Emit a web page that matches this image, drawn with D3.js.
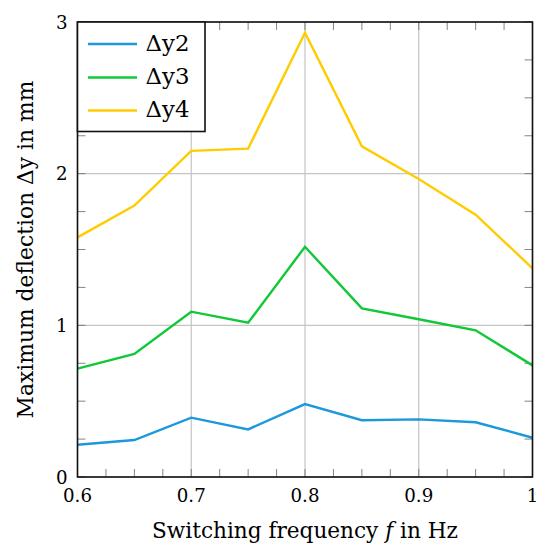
<!DOCTYPE html>
<html>
<head>
<meta charset="utf-8">
<script src="https://cdn.jsdelivr.net/npm/d3@7"></script>
<style>
  body { margin: 0; background: #fff; }
  svg text { font-family: "DejaVu Serif", serif; fill: #000; }
</style>
</head>
<body>
<svg id="chart" width="550" height="550"></svg>
<script>
const freq = [0.6, 0.65, 0.7, 0.75, 0.8, 0.85, 0.9, 0.95, 1.0];
const dy2 = [0.213, 0.244, 0.391, 0.314, 0.481, 0.374, 0.380, 0.361, 0.259];
const dy3 = [0.714, 0.811, 1.090, 1.017, 1.518, 1.112, 1.040, 0.967, 0.736];
const dy4 = [1.580, 1.790, 2.150, 2.165, 2.930, 2.180, 1.965, 1.730, 1.376];
const seriesNames = ["Δy2", "Δy3", "Δy4"];
const seriesColors = ["#1c98dc", "#10c838", "#ffcc00"];
const xTicks = [0.6, 0.7, 0.8, 0.9, 1.0];
const xTickLabels = ["0.6", "0.7", "0.8", "0.9", "1"];
const yTicks = [0, 1, 2, 3];
const yTickLabels = ["0", "1", "2", "3"];
const xMinor = d3.range(0.6, 1.0001, 0.025);
const yMinor = d3.range(0, 3.0001, 0.25);

const series = [dy2, dy3, dy4];
const svg = d3.select("#chart");
const L = 77.5, R = 532.5, T = 22, B = 477;
const x = d3.scaleLinear().domain([0.6, 1.0]).range([L, R]);
const y = d3.scaleLinear().domain([0, 3]).range([B, T]);

// font size that makes a text span a target width
function fitSize(str, target, base) {
  const t = svg.append("text").attr("font-size", base).text(str);
  const w = t.node().getComputedTextLength();
  t.remove();
  return w > 0 ? base * target / w : base;
}
function fit(sel, target) {
  const fs0 = parseFloat(sel.attr("font-size"));
  const w = sel.node().getComputedTextLength();
  if (w > 0) sel.attr("font-size", (fs0 * target / w).toFixed(2));
  return sel;
}

// grid
const g = svg.append("g");
g.selectAll("line.gx").data(xTicks).join("line")
  .attr("x1", d => x(d)).attr("x2", d => x(d)).attr("y1", T).attr("y2", B)
  .attr("stroke", "#c4c4c4").attr("stroke-width", 1.2);
g.selectAll("line.gy").data(yTicks).join("line")
  .attr("y1", d => y(d)).attr("y2", d => y(d)).attr("x1", L).attr("x2", R)
  .attr("stroke", "#c4c4c4").attr("stroke-width", 1.2);

// minor ticks on all sides
const tl = 8;
const tickG = svg.append("g").attr("stroke", "#777").attr("stroke-width", 0.9);
xMinor.forEach(v => {
  tickG.append("line").attr("x1", x(v)).attr("x2", x(v)).attr("y1", B).attr("y2", B - tl);
  tickG.append("line").attr("x1", x(v)).attr("x2", x(v)).attr("y1", T).attr("y2", T + tl);
});
yMinor.forEach(v => {
  tickG.append("line").attr("y1", y(v)).attr("y2", y(v)).attr("x1", L).attr("x2", L + tl);
  tickG.append("line").attr("y1", y(v)).attr("y2", y(v)).attr("x1", R).attr("x2", R - tl);
});

// lines
const line = d3.line().x((d, i) => x(freq[i])).y(d => y(d));
series.forEach((s, k) => {
  svg.append("path").datum(s).attr("d", line)
    .attr("fill", "none").attr("stroke", seriesColors[k])
    .attr("stroke-width", 2.4).attr("stroke-linejoin", "miter");
});

// frame
svg.append("rect").attr("x", L).attr("y", T).attr("width", R - L).attr("height", B - T)
  .attr("fill", "none").attr("stroke", "#111").attr("stroke-width", 1.6);

// tick labels
const fs = Math.min(22, fitSize("0.6", 29, 18));
svg.selectAll("text.xt").data(xTicks).join("text")
  .attr("x", d => x(d)).attr("y", B + 25)
  .attr("text-anchor", "middle").attr("font-size", fs)
  .text((d, i) => xTickLabels[i]);
svg.selectAll("text.yt").data(yTicks).join("text")
  .attr("x", L - 10).attr("y", d => y(d) + 0.36 * fs)
  .attr("text-anchor", "end").attr("font-size", fs)
  .text((d, i) => yTickLabels[i]);

// axis titles
const xt = svg.append("text").attr("x", (L + R) / 2).attr("y", 538)
  .attr("text-anchor", "middle").attr("font-size", 18);
xt.append("tspan").text("Switching frequency ");
xt.append("tspan").attr("font-style", "italic").text("f");
xt.append("tspan").text(" in Hz");
fit(xt, 306);

const yt = svg.append("text")
  .attr("transform", `translate(32.5, ${(T + B) / 2}) rotate(-90)`)
  .attr("text-anchor", "middle").attr("font-size", 18)
  .text("Maximum deflection Δy in mm");
fit(yt, 338);

// legend
const lg = svg.append("g");
lg.append("rect").attr("x", L).attr("y", T).attr("width", 205 - L).attr("height", 131.5 - T)
  .attr("fill", "#fff").attr("stroke", "#111").attr("stroke-width", 1.6);
const ly = [44, 77.5, 110.5];
seriesNames.forEach((n, k) => {
  lg.append("line").attr("x1", 88).attr("x2", 137).attr("y1", ly[k]).attr("y2", ly[k])
    .attr("stroke", seriesColors[k]).attr("stroke-width", 2.4);
  const t = lg.append("text").attr("x", 145.5).attr("y", ly[k] + 6.8)
    .attr("font-size", 18).text(n);
  fit(t, 44);
});
</script>
</body>
</html>
